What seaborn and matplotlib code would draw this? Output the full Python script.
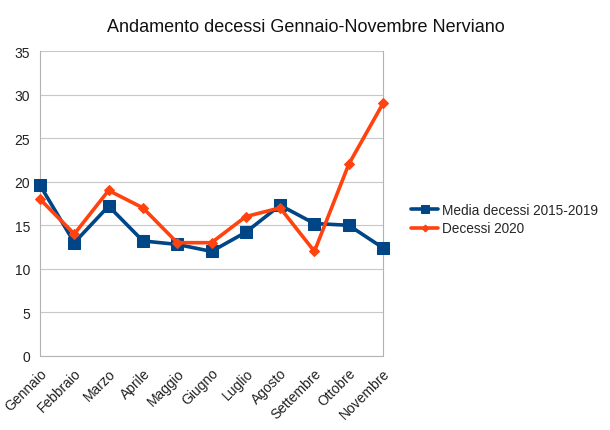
import matplotlib
matplotlib.use("Agg")
import matplotlib.pyplot as plt
import seaborn as sns
import pandas as pd

months = ["Gennaio", "Febbraio", "Marzo", "Aprile", "Maggio", "Giugno",
          "Luglio", "Agosto", "Settembre", "Ottobre", "Novembre"]
media_2015_2019 = [19.6, 13.0, 17.2, 13.2, 12.8, 12.0, 14.2, 17.3, 15.2, 15.0, 12.4]
decessi_2020 = [18, 14, 19, 17, 13, 13, 16, 17, 12, 22, 29]
series_names = ["Media decessi 2015-2019", "Decessi 2020"]
yticks = [0, 5, 10, 15, 20, 25, 30, 35]

sns.set_style("white")
plt.rcParams['font.family'] = ['Liberation Sans', 'DejaVu Sans']

df = pd.DataFrame({
    "mese": months * 2,
    "idx": list(range(len(months))) * 2,
    "valore": media_2015_2019 + decessi_2020,
    "serie": [series_names[0]] * len(months) + [series_names[1]] * len(months),
})

fig = plt.figure(figsize=(6.1, 4.31), dpi=100)
ax = fig.add_axes([0.0656, 0.172, 0.5623, 0.707])

palette = {series_names[0]: "#004586", series_names[1]: "#ff420e"}
markers = {series_names[0]: "s", series_names[1]: "D"}
sizes_m = {series_names[0]: 8, series_names[1]: 5}

for name in series_names:
    sub = df[df["serie"] == name]
    sns.lineplot(data=sub, x="idx", y="valore", ax=ax, color=palette[name],
                 marker=markers[name], markersize=sizes_m[name], linewidth=2.6,
                 markeredgecolor=palette[name], label=name, legend=False,
                 clip_on=False, zorder=3)

ax.set_xlim(0, len(months) - 1)
ax.set_ylim(0, 35)
ax.set_yticks(yticks)
ax.set_xticks(range(len(months)))
ax.set_xticklabels(months, rotation=45, ha="right", rotation_mode="anchor", fontsize=10)
ax.tick_params(axis="y", labelsize=10, length=4, color="#b3b3b3", pad=3, labelcolor="#222222")
ax.tick_params(axis="x", length=4, color="#b3b3b3", pad=3, labelcolor="#222222")
ax.set_xlabel("")
ax.set_ylabel("")
ax.grid(axis="y", color="#c8c8c8", linewidth=0.8)
ax.set_axisbelow(True)
for s in ax.spines.values():
    s.set_color("#b3b3b3")
    s.set_linewidth(0.8)
ax.spines["top"].set_visible(False)

fig.suptitle("Andamento decessi Gennaio-Novembre Nerviano", x=0.502, y=0.955, fontsize=13,
             color="#111111")

handles, labels = ax.get_legend_handles_labels()
fig.legend(handles, labels, loc="center left", bbox_to_anchor=(0.674, 0.489),
           frameon=False, fontsize=9.8, handlelength=2.0, handletextpad=0.3,
           labelspacing=0.3, borderaxespad=0, borderpad=0, markerscale=0.7)

fig.savefig("out.png", dpi=100)
